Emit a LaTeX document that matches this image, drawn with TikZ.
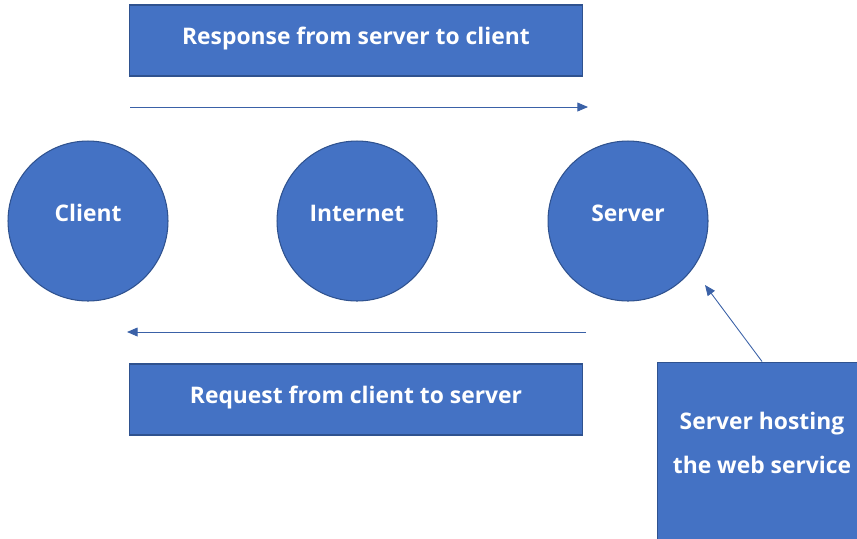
\documentclass[tikz,border=0pt]{standalone}
\usepackage{fontspec}
\setmainfont{Open Sans}
\usetikzlibrary{arrows.meta, positioning}
\definecolor{boxblue}{HTML}{4472C4}
\definecolor{edgeblue}{HTML}{2F528F}
\tikzstyle{cnode} = [circle, fill=boxblue, draw=edgeblue, line width=0.6pt, minimum size=3.2cm, inner sep=0pt, text=white, text height=9.5pt, text depth=9.5pt, font=\fontsize{13}{16}\selectfont\bfseries]
\tikzstyle{bbox} = [rectangle, fill=boxblue, draw=edgeblue, line width=0.6pt, minimum width=9.08cm, minimum height=1.42cm, text=white, text height=9.5pt, text depth=5pt, font=\fontsize{13}{16}\selectfont\bfseries]
\tikzstyle{hbox} = [rectangle, fill=boxblue, draw=edgeblue, line width=0.6pt, minimum width=4.2cm, minimum height=3.6cm]
\tikzstyle{line} = [draw=boxblue!85!black, line width=0.5pt, -{Triangle[width=5pt, length=6pt]}]

\begin{document}
\begin{tikzpicture}[x=0.02cm, y=-0.02cm]
			\useasboundingbox (0,0) rectangle (857,538);
			\clip (0,0) rectangle (857,538);
			\node [bbox] (resp) at (356,40.5) {Response from server to client};
			\node [bbox] (req) at (356,399.5) {Request from client to server};
			\node [cnode] (client) at (88,221) {Client};
			\node [cnode] (internet) at (357,221) {Internet};
			\node [cnode] (server) at (628,221) {Server};
			\node [hbox, label={[text=white, align=center, yshift=0.18cm, font=\fontsize{13}{25}\selectfont\bfseries]center:{Server hosting\\the web service}}] (host) at (762,452) {};
		
			\coordinate (respa) at (130,107);
			\coordinate (respb) at (588,107);
			\coordinate (reqa) at (586,332);
			\coordinate (reqb) at (127,332);
			\coordinate (hosttip) at (705,285);
		
			\path [line] (respa) -- (respb);
			\path [line] (reqa) -- (reqb);
			\path [line] (host.north) -- (hosttip);
		\end{tikzpicture}
\end{document}
